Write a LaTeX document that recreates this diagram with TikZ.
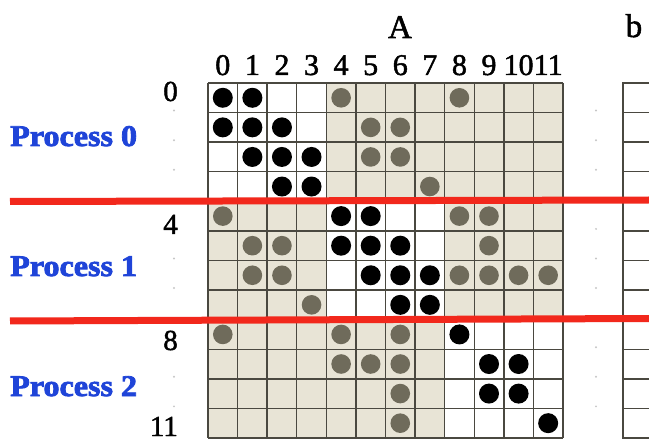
\documentclass[tikz,border=0pt]{standalone}
\usepackage{fontspec}
\setmainfont{Liberation Serif}
\newfontfamily\lblfont[FakeBold=1.6]{Liberation Serif}
\newfontfamily\procfont[FakeBold=2.6]{Liberation Serif}
\definecolor{beige}{HTML}{E8E4D6}
\definecolor{gdot}{HTML}{6F6B5B}
\definecolor{gline}{HTML}{4A4840}
\definecolor{pblue}{HTML}{1F44D8}
\definecolor{redl}{HTML}{F2281C}
\tikzset{
  gridline/.style={gline, line width=1.4pt},
  lbl/.style={font=\lblfont\fontsize{30}{36}\selectfont, inner sep=0pt},
  rowlbl/.style={font=\lblfont\fontsize{29}{34}\selectfont, inner sep=0pt, anchor=base east},
  proc/.style={font=\procfont\bfseries\fontsize{30}{36}\selectfont, text=pblue, inner sep=0pt, anchor=base west, xscale=1.07},
  sep/.style={redl, line width=7pt},
  faint/.style={fill=gray!45},
}
\begin{document}
\begin{tikzpicture}[x=1pt,y=-1pt]
\useasboundingbox (0,0) rectangle (649,441);
\clip (0,0) rectangle (649,441);
\def\cs{29.58}
\def\ox{208}
\def\oy{83}
% shaded off-diagonal part
\fill[beige] (\ox,\oy) rectangle +(12*\cs,12*\cs);
\foreach \k in {0,1,2}
  \fill[white] (\ox+4*\k*\cs,\oy+4*\k*\cs) rectangle +(4*\cs,4*\cs);
% grid
\foreach \i in {0,...,12} {
  \draw[gridline] (\ox+\i*\cs,\oy) -- ++(0,12*\cs);
  \draw[gridline] (\ox,\oy+\i*\cs) -- ++(12*\cs,0);
}
% black entries
\foreach \c/\r in {0/0,1/0,0/1,1/1,2/1,1/2,2/2,3/2,2/3,3/3,
                   4/4,5/4,4/5,5/5,6/5,5/6,6/6,7/6,6/7,7/7,
                   8/8,9/9,10/9,9/10,10/10,11/11}
  \fill[black] (\ox+\c*\cs+0.5*\cs,\oy+\r*\cs+0.5*\cs) circle (10pt);
% gray entries
\foreach \c/\r in {4/0,8/0,5/1,6/1,5/2,6/2,7/3,
                   0/4,8/4,9/4,1/5,2/5,9/5,1/6,2/6,8/6,9/6,10/6,11/6,3/7,
                   0/8,4/8,6/8,4/9,5/9,6/9,6/10,6/11}
  \fill[gdot] (\ox+\c*\cs+0.5*\cs,\oy+\r*\cs+0.5*\cs) circle (9.8pt);
% vector b
\draw[gridline] (623,\oy) rectangle (700,\oy+12*\cs);
\foreach \i in {1,...,11}
  \draw[gridline] (623,\oy+\i*\cs) -- (700,\oy+\i*\cs);
% faint dots
\foreach \i in {1,2,3,6,7,10,11}
  \fill[faint] (174,\oy+\i*\cs-2) circle (1.1pt);
\foreach \i in {1,2,3,5,6,7,9,10,11}
  \fill[faint] (596,\oy+\i*\cs-2) circle (1.1pt);
% separators
\draw[sep] (10,201.5) -- (649,200);
\draw[sep] (10,321) -- (649,318.5);
% titles
\node[lbl, anchor=base, font=\lblfont\fontsize{33}{38}\selectfont] (tA) at (400,38) {A};
\node[lbl, anchor=base, font=\lblfont\fontsize{33}{38}\selectfont] (tb) at (634,37) {b};
% column labels
\foreach \j in {0,...,11}
  \node[lbl, anchor=base] (c\j) at (\ox+\j*\cs+0.5*\cs,75) {\j};
% row labels
\node[rowlbl] (r0) at (178,101) {0};
\node[rowlbl] (r4) at (178,234) {4};
\node[rowlbl] (r8) at (178,350) {8};
\node[rowlbl] (r11) at (178,436) {11};
% process labels
\node[proc] (p0) at (10,146) {Process 0};
\node[proc] (p1) at (10,276) {Process 1};
\node[proc] (p2) at (10,396) {Process 2};
\end{tikzpicture}
\end{document}
